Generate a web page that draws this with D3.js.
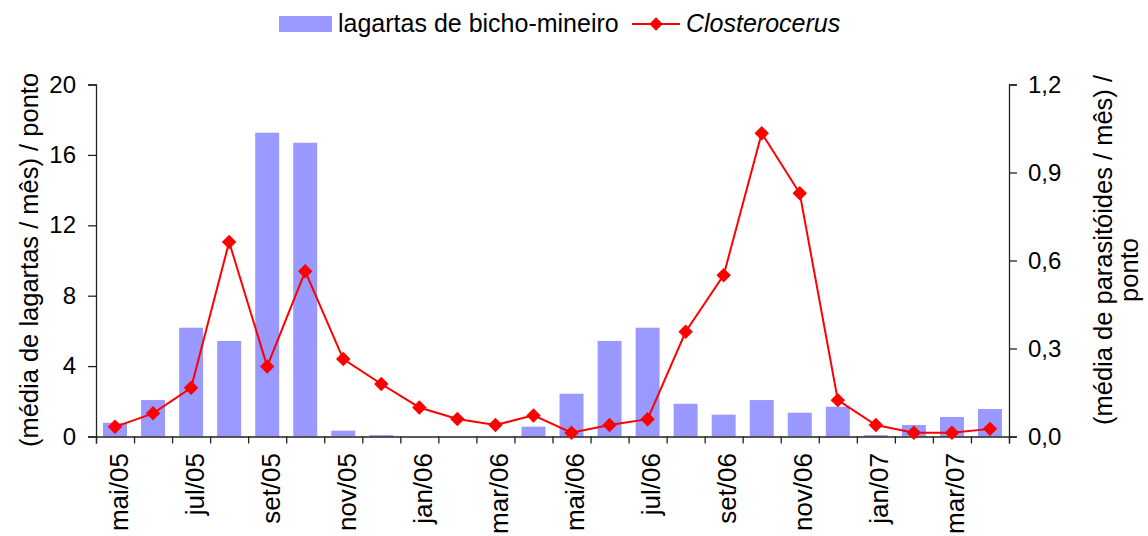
<!DOCTYPE html>
<html><head><meta charset="utf-8">
<script src="https://cdn.jsdelivr.net/npm/d3@7"></script>
<style>
body{margin:0;background:#fff;}
text{font-family:"Liberation Sans",Arial,sans-serif;}
</style></head>
<body><svg id="c" width="1148" height="536"></svg>
<script>
const months = ["mai/05","jun/05","jul/05","ago/05","set/05","out/05","nov/05","dez/05","jan/06","fev/06","mar/06","abr/06","mai/06","jun/06","jul/06","ago/06","set/06","out/06","nov/06","dez/06","jan/07","fev/07","mar/07","abr/07"];
const lagartas = [0.78,2.07,6.18,5.43,17.26,16.69,0.33,0.08,0,0,0,0.56,2.43,5.43,6.18,1.86,1.24,2.07,1.35,1.69,0.08,0.65,1.11,1.56];
const closterocerus = [0.033,0.079,0.166,0.663,0.239,0.563,0.264,0.179,0.099,0.060,0.039,0.072,0.013,0.039,0.059,0.357,0.55,1.034,0.829,0.124,0.039,0.013,0.013,0.026];
const leftTicks = [0,4,8,12,16,20];
const rightTicks = [0,0.3,0.6,0.9,1.2];
const xLabelMonths = months.filter((d,i)=>i%2===0);

const svg = d3.select("#c");
const L=96, R=1009, T=84.5, B=436.5;
const x = d3.scaleBand().domain(months).range([L,R]).paddingInner(0.37).paddingOuter(0.185);
const xb = d3.scaleLinear().domain([0,months.length]).range([L,R]);
const yL = d3.scaleLinear().domain([0,20]).range([B,T]);
const yR = d3.scaleLinear().domain([0,1.2]).range([B,T]);
const cx = d => x(d)+x.bandwidth()/2;

// bars
svg.append("g").selectAll("rect").data(lagartas).join("rect")
  .attr("x",(d,i)=>x(months[i])).attr("width",x.bandwidth())
  .attr("y",d=>yL(d)).attr("height",d=>B-yL(d)).attr("fill","#9999FF");

// axes
const gl = svg.append("g").attr("transform",`translate(${L},0)`)
  .call(d3.axisLeft(yL).tickValues(leftTicks).tickSize(8).tickPadding(12).tickFormat(d3.format("d")));
const gr = svg.append("g").attr("transform",`translate(${R},0)`)
  .call(d3.axisRight(yR).tickValues(rightTicks).tickSize(8).tickPadding(11).tickFormat(d=>d.toFixed(1).replace(".",",")));
const gx = svg.append("g").attr("transform",`translate(0,${B})`)
  .call(d3.axisBottom(xb).tickValues(d3.range(0,months.length+1)).tickSize(7).tickFormat(""));
[gl,gr,gx].forEach(g=>{
  g.selectAll("path").attr("stroke","#222").attr("stroke-width",1.3);
  g.selectAll("line").attr("stroke","#222").attr("stroke-width",1.3);
  g.selectAll("text").attr("font-size","24px").attr("fill","#000").attr("font-family","Liberation Sans, Arial, sans-serif");
});

// x labels
svg.append("g").selectAll("text").data(xLabelMonths).join("text")
  .attr("transform",d=>`translate(${cx(d)+12.5},453) rotate(-90)`)
  .attr("text-anchor","end").attr("font-size","26px").text(d=>d);

// line
const line = d3.line().x((d,i)=>cx(months[i])).y(d=>yR(d));
svg.append("path").datum(closterocerus).attr("d",line).attr("fill","none").attr("stroke","#FF0000").attr("stroke-width",2);
svg.append("g").selectAll("path").data(closterocerus).join("path")
  .attr("d",d3.symbol().type(d3.symbolSquare).size(105))
  .attr("transform",(d,i)=>`translate(${cx(months[i])},${yR(d)}) rotate(45)`)
  .attr("fill","#FF0000");

// axis titles
svg.append("text").attr("transform","translate(37.5,260) rotate(-90)").attr("text-anchor","middle").attr("font-size","25.5px")
  .text("(média de lagartas / mês) / ponto");
svg.append("text").attr("transform","translate(1111.5,250) rotate(-90)").attr("text-anchor","middle").attr("font-size","25.5px")
  .text("(média de parasitóides / mês) /");
svg.append("text").attr("transform","translate(1138,270) rotate(-90)").attr("text-anchor","middle").attr("font-size","25.5px")
  .text("ponto");

// legend
const lg = svg.append("g");
lg.append("rect").attr("x",279).attr("y",16).attr("width",53).attr("height",16).attr("fill","#9999FF");
lg.append("text").attr("x",338).attr("y",32).attr("font-size","25px").text("lagartas de bicho-mineiro");
lg.append("line").attr("x1",632).attr("x2",680).attr("y1",24).attr("y2",24).attr("stroke","#FF0000").attr("stroke-width",2);
lg.append("path").attr("d",d3.symbol().type(d3.symbolSquare).size(90)).attr("transform","translate(656,24) rotate(45)").attr("fill","#FF0000");
lg.append("text").attr("x",686).attr("y",32).attr("font-size","25px").attr("font-style","italic").text("Closterocerus");
</script></body></html>
